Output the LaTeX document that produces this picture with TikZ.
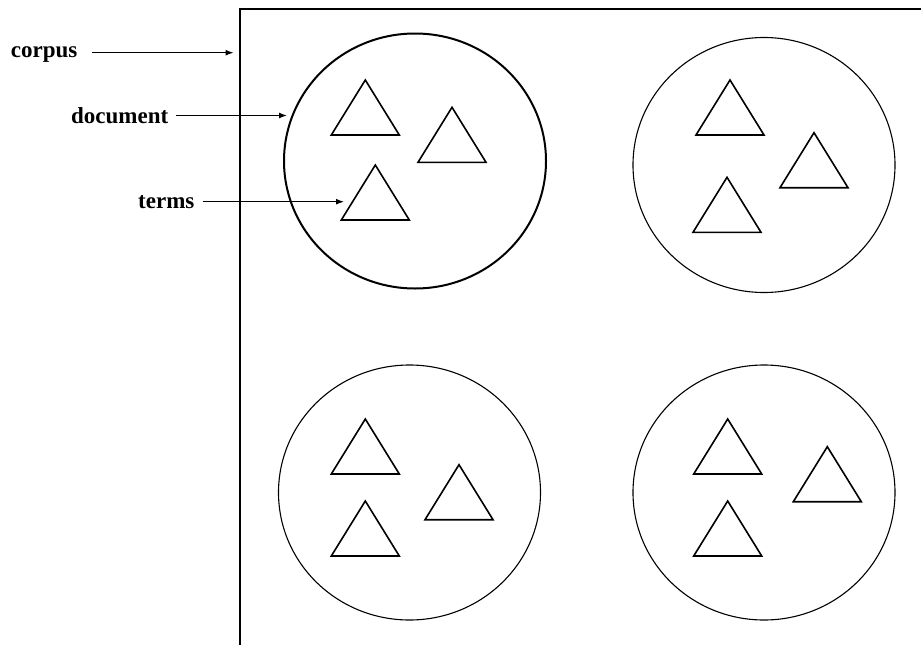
\documentclass[tikz,border=0pt]{standalone}
\usepackage{fontspec}
\setmainfont{Liberation Serif}
\usetikzlibrary{arrows.meta,shapes.geometric}
\begin{document}
\begin{tikzpicture}[x=1pt,y=-1pt,
  label/.style={font=\fontsize{23}{27}\selectfont\bfseries, inner sep=0pt, anchor=base west},
  pointer/.style={line width=1.2pt, -{Latex[length=8pt,width=6pt]}},
  docbox/.style={draw, ellipse, line width=1.1pt, minimum width=262pt, minimum height=255pt, inner sep=0pt},
  term/.pic={\draw[line width=1.6pt, line join=miter] (-34,0) -- (34,0) -- (0,-55) -- cycle;}
]
\useasboundingbox (0,0) rectangle (921,645);

% corpus frame (runs off the right and bottom)
\draw[line width=2pt] (921,9.3) -- (240,9.3) -- (240,645);

% documents
\node[docbox, line width=2pt] (d1) at (415,161) {};
\node[docbox] (d2) at (764,165) {};
\node[docbox] (d3) at (409.5,492.5) {};
\node[docbox] (d4) at (764,492.5) {};

% terms inside each document (base centre of each triangle)
\pic at (365.3,135) {term};
\pic at (452,162.3) {term};
\pic at (375.3,220) {term};

\pic at (730,135) {term};
\pic at (814,187.7) {term};
\pic at (727,232.3) {term};

\pic at (365.3,474) {term};
\pic at (459,519.7) {term};
\pic at (365.3,556) {term};

\pic at (727.7,474) {term};
\pic at (827.3,501.7) {term};
\pic at (727.7,556) {term};

% labels
\node[label] (lc) at (10.7,57.3) {corpus};
\node[label] (ld) at (71,123.3) {document};
\node[label] (lt) at (138,208.3) {terms};

\coordinate (pc) at (233.5,52.7);
\coordinate (pd) at (287,115.5);
\coordinate (pt) at (344,201.7);

\draw[pointer] (lc.east |- pc) ++(14,0) -- (pc);
\draw[pointer] (ld.east |- pd) ++(7,0) -- (pd);
\draw[pointer] (lt.east |- pt) ++(8,0) -- (pt);
\end{tikzpicture}
\end{document}
